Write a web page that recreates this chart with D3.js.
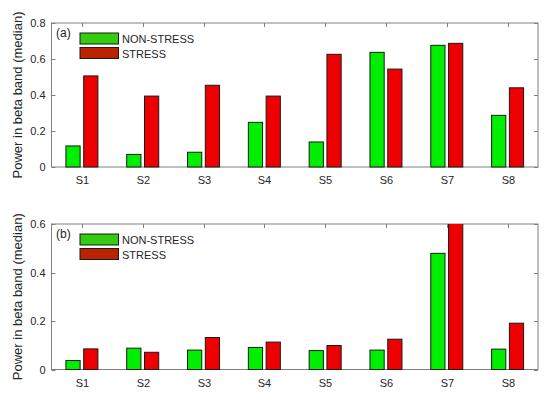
<!DOCTYPE html>
<html>
<head>
<meta charset="utf-8">
<script src="https://cdn.jsdelivr.net/npm/d3@7"></script>
<style>
  body { margin: 0; background: #fff; }
  svg { display: block; font-family: "Liberation Sans", Arial, sans-serif; }
</style>
</head>
<body>
<div id="chart"></div>
<script>
// values
var subjects = ["S1", "S2", "S3", "S4", "S5", "S6", "S7", "S8"];
var groups = ["NON-STRESS", "STRESS"];

var nonStressA = [0.117, 0.070, 0.082, 0.248, 0.139, 0.637, 0.676, 0.287];
var stressA    = [0.506, 0.394, 0.454, 0.394, 0.626, 0.544, 0.687, 0.440];
var nonStressB = [0.037, 0.088, 0.080, 0.091, 0.078, 0.080, 0.479, 0.084];
var stressB    = [0.085, 0.071, 0.132, 0.113, 0.099, 0.125, 0.620, 0.191];

var ticksA = [0, 0.2, 0.4, 0.6, 0.8];
var ticksB = [0, 0.2, 0.4, 0.6];

var width = 550, height = 396;
var barColors = ["#00ee00", "#ee0000"];
var legendColors = ["#33cc11", "#bb2200"];

var svg = d3.select("#chart").append("svg")
  .attr("width", width)
  .attr("height", height);

var x = d3.scaleBand().domain(subjects).range([51.5, 538]).paddingInner(0).paddingOuter(0);
var xSub = d3.scaleBand().domain(groups).range([-16, 16]).paddingInner(0.2);

function panel(opts) {
  var y = d3.scaleLinear().domain([0, opts.ymax]).range([opts.bottom, opts.top]);
  var g = svg.append("g");
  var left = x.range()[0], right = x.range()[1];

  var clipId = "clip-" + opts.id;
  svg.append("clipPath").attr("id", clipId)
    .append("rect")
    .attr("x", left - 2).attr("y", opts.top)
    .attr("width", right - left + 4).attr("height", opts.bottom - opts.top + 2);

  // box
  g.append("rect")
    .attr("x", left).attr("y", opts.top)
    .attr("width", right - left).attr("height", opts.bottom - opts.top)
    .attr("fill", "none").attr("stroke", "#808080").attr("stroke-width", 1);

  // y ticks inward on both sides
  opts.ticks.forEach(function(t) {
    var yy = Math.round(y(t)) + 0.5;
    g.append("line").attr("x1", left).attr("x2", left + 4).attr("y1", yy).attr("y2", yy)
      .attr("stroke", "#808080");
    g.append("line").attr("x1", right - 4).attr("x2", right).attr("y1", yy).attr("y2", yy)
      .attr("stroke", "#808080");
    g.append("text")
      .attr("x", left - 6).attr("y", y(t) + 4)
      .attr("text-anchor", "end")
      .attr("font-size", 11).attr("fill", "#262626")
      .text(t === 0 ? "0" : d3.format(".1f")(t));
  });

  // x ticks at top and bottom
  subjects.forEach(function(s) {
    var xx = Math.round(x(s) + x.bandwidth() / 2) + 0.5;
    g.append("line").attr("x1", xx).attr("x2", xx).attr("y1", opts.top).attr("y2", opts.top + 4)
      .attr("stroke", "#808080");
    g.append("text")
      .attr("x", xx).attr("y", opts.bottom + 17)
      .attr("text-anchor", "middle")
      .attr("font-size", 11).attr("fill", "#262626")
      .text(s);
  });

  // bars
  var series = [opts.ns, opts.s];
  var bars = g.append("g").attr("clip-path", "url(#" + clipId + ")");
  series.forEach(function(vals, gi) {
    bars.selectAll(null)
      .data(vals)
      .enter()
      .append("rect")
      .attr("x", function(d, i) { return x(subjects[i]) + x.bandwidth() / 2 + xSub(groups[gi]); })
      .attr("y", function(d) { return y(d); })
      .attr("width", xSub.bandwidth())
      .attr("height", function(d) { return y(0) - y(d); })
      .attr("fill", barColors[gi])
      .attr("stroke", "#1a1a1a")
      .attr("stroke-width", 1);
  });

  // panel letter
  g.append("text")
    .attr("x", 56).attr("y", opts.top + 14)
    .attr("font-size", 12).attr("fill", "#262626")
    .text(opts.tag);

  // legend
  groups.forEach(function(name, gi) {
    var ly = opts.top + 10 + gi * 14.5;
    g.append("rect")
      .attr("x", 80).attr("y", ly)
      .attr("width", 38.5).attr("height", 11)
      .attr("fill", legendColors[gi]).attr("stroke", "#1a1a1a");
    g.append("text")
      .attr("x", 122).attr("y", ly + 10)
      .attr("font-size", 11).attr("fill", "#262626")
      .text(name);
  });

  // y label
  g.append("text")
    .attr("transform", "translate(22," + ((opts.top + opts.bottom) / 2) + ") rotate(-90)")
    .attr("text-anchor", "middle")
    .attr("font-size", 13).attr("fill", "#262626")
    .text("Power in beta band (median)");
}

panel({ id: "a", tag: "(a)", top: 23, bottom: 167, ymax: 0.8, ticks: ticksA, ns: nonStressA, s: stressA });
panel({ id: "b", tag: "(b)", top: 224, bottom: 369.5, ymax: 0.6, ticks: ticksB, ns: nonStressB, s: stressB });
</script>
</body>
</html>
